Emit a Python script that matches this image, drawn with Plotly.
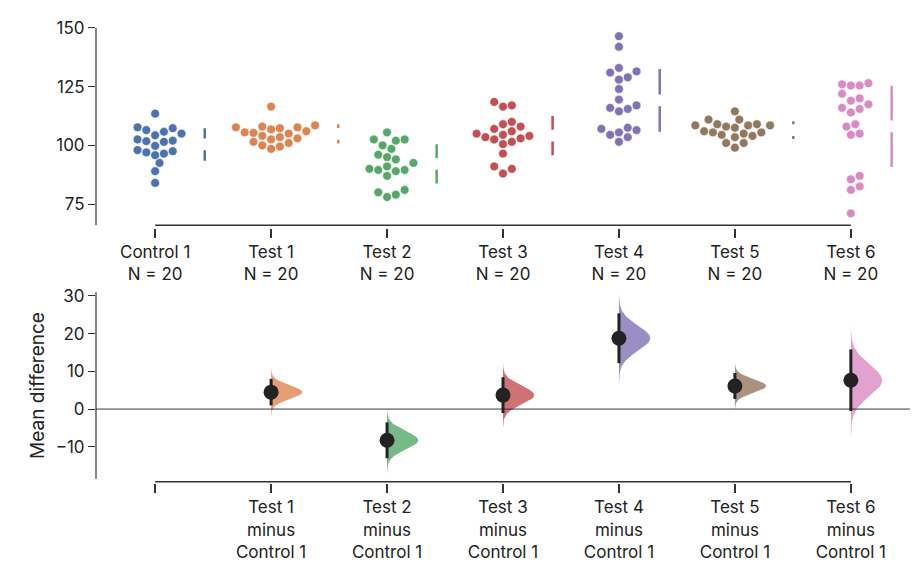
import numpy as np
import plotly.graph_objects as go

groups = ["Control 1", "Test 1", "Test 2", "Test 3", "Test 4", "Test 5", "Test 6"]
colors = ["#4C72B0", "#DD8452", "#55A868", "#C44E52", "#8172B3", "#937860", "#DA8BC3"]

control_1 = [113.5, 107.7, 107.3, 106.5, 105.8, 105, 104.3, 102.5, 102, 101.8,
             101.5, 99.8, 98, 97.5, 97, 96.5, 95.8, 92.5, 89, 84]
test_1 = [116.5, 108.5, 108, 107.7, 107.7, 107.3, 106.8, 106, 105.5, 105.3,
          105, 104, 103.5, 103, 102.5, 101.5, 101, 100, 99.5, 98.5]
test_2 = [105.5, 102.5, 102.5, 102, 100, 98.5, 96, 95, 94, 92.5,
          91, 90, 89.5, 89.5, 89, 87, 81, 80, 79, 78]
test_3 = [118.5, 117, 116.5, 110, 109, 108, 107, 106, 105, 104.5,
          104, 103.5, 103, 102.5, 101.5, 100.5, 96.5, 91, 90, 88]
test_4 = [146.5, 142, 133, 131.5, 131, 129, 128, 124, 119.5, 117,
          116, 115.5, 114.5, 107.5, 107, 106.5, 105.5, 104.5, 103.5, 101.5]
test_5 = [114.5, 111, 111, 109, 109, 108.5, 108.5, 108.5, 108, 107.5,
          106, 105.5, 105.5, 105, 104.5, 104, 103.5, 101, 101, 99]
test_6 = [126.5, 126, 125.5, 125.5, 122, 120, 119, 117.5, 116, 115.5,
          114, 109, 108, 105, 104.5, 87, 85.5, 82.5, 81, 71]
data = [control_1, test_1, test_2, test_3, test_4, test_5, test_6]

top_labels = [g + "<br>N = 20" for g in groups]
bot_labels = [""] + [g + "<br>minus<br>Control 1" for g in groups[1:]]

FONT = "Inter"
PX_X = 116.0   # px per x unit
PX_Y = 2.347   # px per y unit (top panel)
DOT = 8.8


def swarm(vals):
    order = np.argsort(vals)
    placed = []
    offs = np.zeros(len(vals))
    for idx in order:
        y = vals[idx] * PX_Y
        for k in range(0, 40):
            cands = [0] if k == 0 else [k * 0.5 * DOT, -k * 0.5 * DOT]
            ok = None
            for c in cands:
                if all((c - px) ** 2 + (y - py) ** 2 >= DOT ** 2 for px, py in placed):
                    ok = c
                    break
            if ok is not None:
                break
        placed.append((ok, y))
        offs[idx] = ok / PX_X
    return offs


fig = go.Figure()
ctrl = np.array(control_1)
for i, vals in enumerate(data):
    v = np.array(vals)
    offs = swarm(v)
    fig.add_trace(go.Scatter(x=i + offs, y=v, mode="markers", xaxis="x", yaxis="y",
                             marker=dict(color=colors[i], size=DOT, line=dict(width=0.6, color="white")),
                             showlegend=False, hoverinfo="y"))
    m, s = v.mean(), v.std(ddof=1)
    gx = i + offs.max() + 0.2
    gap = 2.5
    fig.add_trace(go.Scatter(x=[gx, gx, None, gx, gx], y=[m - s, m - gap, None, m + gap, m + s],
                             mode="lines", line=dict(color=colors[i], width=2.5),
                             xaxis="x", yaxis="y", showlegend=False, hoverinfo="skip"))
    if i == 0:
        continue
    d = v.mean() - ctrl.mean()
    se = np.sqrt(v.var(ddof=1) / len(v) + ctrl.var(ddof=1) / len(ctrl))
    grid = np.linspace(d - 3.6 * se, d + 3.6 * se, 120)
    pdf = np.exp(-0.5 * ((grid - d) / se) ** 2)
    wx = i + 0.27 * pdf
    fig.add_trace(go.Scatter(x=np.concatenate([wx, [i, i]]), y=np.concatenate([grid, [grid[-1], grid[0]]]),
                             fill="toself", fillcolor=colors[i], opacity=0.8, mode="lines",
                             line=dict(width=0), xaxis="x2", yaxis="y2", showlegend=False, hoverinfo="skip"))
    fig.add_trace(go.Scatter(x=[i, i], y=[d - 1.96 * se, d + 1.96 * se], mode="lines",
                             line=dict(color="#222", width=3), xaxis="x2", yaxis="y2",
                             showlegend=False, hoverinfo="skip"))
    fig.add_trace(go.Scatter(x=[i], y=[d], mode="markers", marker=dict(color="#222", size=15),
                             xaxis="x2", yaxis="y2", showlegend=False, hoverinfo="y"))

H = 565.0
xr = [-0.51, 6.51]
tick_font = dict(family=FONT, size=17, color="#222")
fig.update_layout(
    width=920, height=565, margin=dict(l=88, r=18, t=0, b=0, autoexpand=False),
    plot_bgcolor="white", paper_bgcolor="white", font=tick_font,
    xaxis=dict(domain=[0, 1], range=xr, tickvals=list(range(7)), ticktext=top_labels,
               ticks="outside", ticklen=9, tickwidth=1.5, tickcolor="#333", showgrid=False,
               zeroline=False, showline=False, anchor="y", automargin=False),
    yaxis=dict(domain=[1 - 219.5 / H, 1 - 15.3 / H], range=[65, 152], tickvals=[75, 100, 125, 150],
               ticks="outside", ticklen=7, tickcolor="#333", showgrid=False, zeroline=False,
               showline=False, automargin=False),
    xaxis2=dict(domain=[0, 1], range=xr, tickvals=list(range(7)), ticktext=bot_labels,
                ticks="outside", ticklen=9, tickwidth=1.5, tickcolor="#333", showgrid=False,
                zeroline=False, showline=False, anchor="y2", automargin=False),
    yaxis2=dict(domain=[1 - 475 / H, 1 - 280 / H], range=[-19.6, 32.1], tickvals=[-10, 0, 10, 20, 30],
                ticks="outside", ticklen=7, tickcolor="#333", showgrid=False, zeroline=False,
                showline=False, automargin=False,
                title=dict(text="Mean difference", font=dict(family=FONT, size=19), standoff=6)),
)
shapes = [
    dict(type="line", xref="x", yref="y", x0=0, x1=6, y0=66, y1=66, line=dict(color="#333", width=1.5)),
    dict(type="line", xref="paper", yref="y", x0=0, x1=0, y0=66, y1=150, line=dict(color="#333", width=1.2)),
    dict(type="line", xref="x2", yref="y2", x0=0, x1=6, y0=-19.3, y1=-19.3, line=dict(color="#333", width=1.5)),
    dict(type="line", xref="paper", yref="y2", x0=0, x1=0, y0=-18.5, y1=31, line=dict(color="#333", width=1.2)),
    dict(type="line", xref="paper", yref="y2", x0=0, x1=1, y0=0, y1=0, line=dict(color="#222", width=0.9)),
]
fig.update_layout(shapes=shapes)
fig.write_html("out.html")
